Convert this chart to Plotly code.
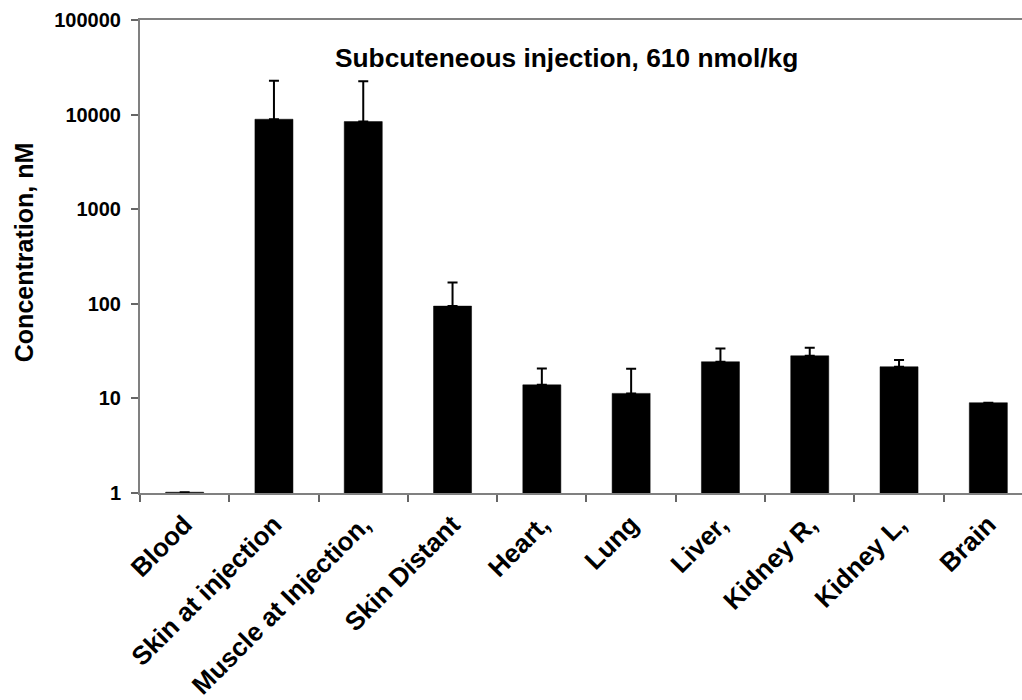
import plotly.graph_objects as go

categories = ["Blood", "Skin at injection", "Muscle at Injection,", "Skin Distant",
              "Heart,", "Lung", "Liver,", "Kidney R,", "Kidney L,", "Brain"]
concentration = [1.02, 8935, 8430, 94.5, 13.9, 11.3, 24.4, 28.2, 21.6, 9.0]
error_plus = [0, 13900, 14070, 73.5, 6.8, 9.3, 9.3, 6.1, 3.8, 0]
y_tick_vals = [1, 10, 100, 1000, 10000, 100000]
y_tick_text = ["1", "10", "100", "1000", "10000", "100000"]
title_text = "Subcuteneous injection, 610 nmol/kg"
y_title = "Concentration, nM"

FONT = "Liberation Sans, Arial, sans-serif"

fig = go.Figure()
fig.add_trace(go.Bar(
    x=categories,
    y=concentration,
    marker=dict(color="black", line=dict(color="black", width=0.5)),
    error_y=dict(type="data", symmetric=False, array=error_plus,
                 arrayminus=[0] * len(error_plus),
                 color="black", thickness=2, width=5),
    showlegend=False,
))

fig.update_layout(
    width=1022, height=700,
    margin=dict(l=140, r=0, t=20, b=207),
    paper_bgcolor="white", plot_bgcolor="white",
    bargap=0.574,
    font=dict(family=FONT, color="black"),
    xaxis=dict(
        type="category",
        range=[-0.5, 9.377],
        tickson="boundaries",
        ticks="outside", ticklen=7, tickwidth=1.5, tickcolor="#666666",
        showline=True, linecolor="#808080", linewidth=2, mirror=True,
        showgrid=False, zeroline=False,
        tickangle=-45,
        ticklabelstandoff=4,
        tickfont=dict(family=FONT, size=26, weight="bold", color="black"),
    ),
    yaxis=dict(
        type="log",
        range=[0, 5],
        tickvals=y_tick_vals, ticktext=y_tick_text,
        ticks="outside", ticklen=7, tickwidth=1.5, tickcolor="#666666",
        showline=True, linecolor="#808080", linewidth=2, mirror=False,
        showgrid=False, zeroline=False,
        ticklabelstandoff=6,
        tickfont=dict(family=FONT, size=20, weight="bold", color="black"),
    ),
    annotations=[
        dict(text=title_text, xref="paper", yref="paper", x=0.483, y=0.9197,
             xanchor="center", yanchor="middle", showarrow=False,
             font=dict(family=FONT, size=26.3, weight="bold", color="black")),
        dict(text=y_title, xref="paper", yref="paper", x=-0.1315, y=0.507,
             xanchor="center", yanchor="middle", showarrow=False, textangle=-90,
             font=dict(family=FONT, size=25, weight="bold", color="black")),
    ],
)

fig.write_html("out.html")
